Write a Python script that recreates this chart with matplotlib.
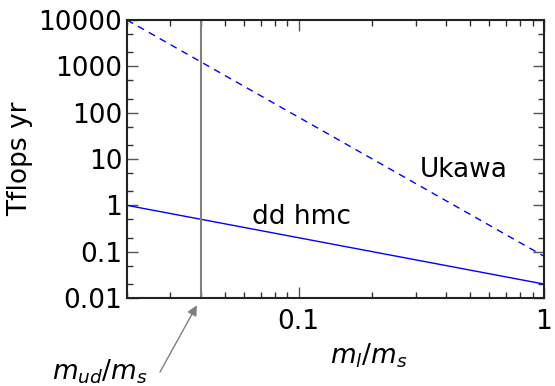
import matplotlib
matplotlib.use("Agg")
import matplotlib.pyplot as plt
from matplotlib.ticker import LogLocator, FuncFormatter, NullFormatter

# mass ratio endpoints and costs (Tflops yr)
ratio = [0.02, 1.0]
ukawa = [10000, 0.08]
ddhmc = [1.0, 0.02]
phys_ratio = 0.04

fs = 19

fig = plt.figure(figsize=(5.55, 3.86), dpi=100)
ax = fig.add_axes([0.229, 0.228, 0.751, 0.72])

ax.loglog(ratio, ukawa, color='blue', lw=1, linestyle=(0, (5, 4)))
ax.loglog(ratio, ddhmc, color='blue', lw=1)
ax.axvline(phys_ratio, color='gray', lw=1.5)

ax.set_xlim(0.02, 1)
ax.set_ylim(0.01, 10000)

fmt = FuncFormatter(lambda v, p: ('%g' % v))
ax.xaxis.set_major_formatter(fmt)
ax.yaxis.set_major_locator(LogLocator(base=10, numticks=20))
ax.yaxis.set_major_formatter(fmt)
ax.yaxis.set_minor_locator(LogLocator(base=10, subs=(2, 5), numticks=20))
ax.yaxis.set_minor_formatter(NullFormatter())
ax.xaxis.set_minor_formatter(NullFormatter())

ax.tick_params(which='both', direction='in', top=True, right=True, labelsize=fs)
ax.tick_params(which='major', length=8, width=1, color='#555555')
ax.tick_params(which='minor', length=4, width=1, color='#333333')
ax.tick_params(axis='x', pad=8)
for s in ax.spines.values():
    s.set_linewidth(1.5)
    s.set_color('#222222')

ax.set_ylabel('Tflops yr', fontsize=fs)
ax.set_xlabel('$m_l/m_s$', fontsize=fs)
ax.xaxis.set_label_coords(0.58, -0.155)

ax.text(0.469, 5.8, 'Ukawa', fontsize=fs, ha='center', va='center')
ax.text(0.103, 0.56, 'dd hmc', fontsize=fs, ha='center', va='center')

# label for physical mass ratio, with arrow to the axis
fig.text(100 / 555, 14 / 386, '$m_{ud}/m_s$', fontsize=fs, ha='center', va='center')
ax.annotate('', xy=(phys_ratio, 0.01), xytext=(160, 14),
            xycoords='data', textcoords='figure pixels',
            arrowprops=dict(arrowstyle='-|>', color='gray', lw=1,
                            shrinkA=0, shrinkB=6, mutation_scale=15),
            annotation_clip=False)

fig.savefig('out.png', dpi=100)
